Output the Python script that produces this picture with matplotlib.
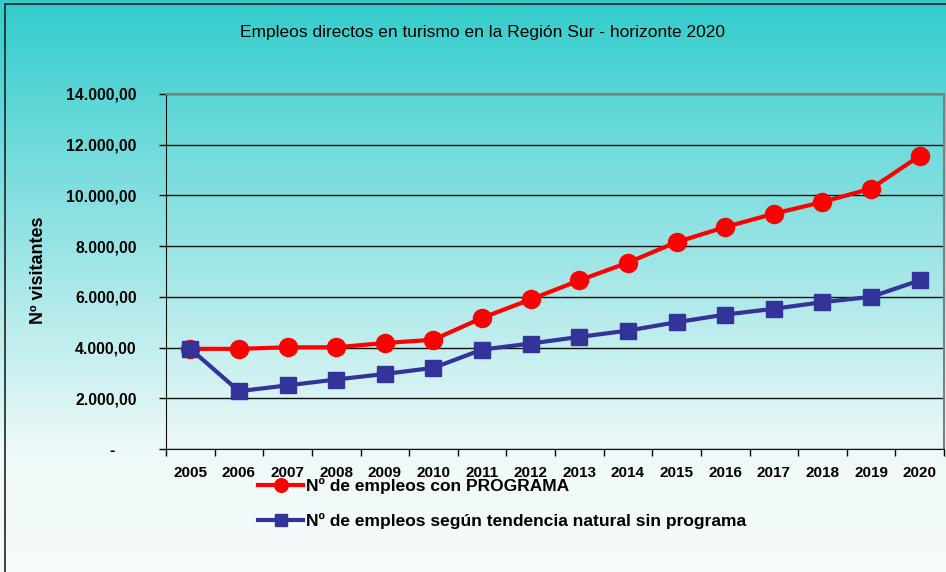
import numpy as np
import matplotlib
matplotlib.use('Agg')
import matplotlib.pyplot as plt
from matplotlib.colors import LinearSegmentedColormap
from matplotlib.patches import Rectangle

plt.rcParams['font.family'] = ['Liberation Sans', 'DejaVu Sans']

# Data
years = ['2005', '2006', '2007', '2008', '2009', '2010', '2011', '2012',
         '2013', '2014', '2015', '2016', '2017', '2018', '2019', '2020']
con_programa = [3950, 3950, 4010, 4010, 4180, 4310, 5170, 5900,
                6650, 7350, 8160, 8750, 9280, 9740, 10270, 11560]
sin_programa = [3950, 2280, 2510, 2740, 2960, 3200, 3920, 4160,
                4420, 4670, 5000, 5300, 5530, 5790, 6000, 6650]
y_ticks = [0, 2000, 4000, 6000, 8000, 10000, 12000, 14000]
y_labels = ['-     ', '2.000,00', '4.000,00', '6.000,00', '8.000,00',
            '10.000,00', '12.000,00', '14.000,00']

W, H = 946, 572
fig = plt.figure(figsize=(W / 100, H / 100), dpi=100)

# background gradient (teal at top fading to white)
bg = fig.add_axes([0, 0, 1, 1], zorder=-10)
bg.axis('off')
cmap = LinearSegmentedColormap.from_list(
    'bg', [(0, '#33cccc'), (455 / H, '#f0f9f9'), (1, '#f6fbfb')])
grad = np.linspace(0, 1, 400).reshape(-1, 1)
bg.imshow(grad, cmap=cmap, aspect='auto', extent=[0, 1, 0, 1])
bg.set_xlim(0, 1)
bg.set_ylim(0, 1)
bg.add_patch(Rectangle((5 / W, -0.1), 1.2, 1 - 4 / H + 0.1,
                       fill=False, edgecolor='#222222', linewidth=1.2))

ax = fig.add_axes([166 / W, 1 - 449 / H, (944 - 166) / W, (449 - 94) / H])
ax.patch.set_alpha(0)

x = np.arange(len(years))
ax.plot(x, con_programa, color='#ff0000', linewidth=3, marker='o',
        markersize=13, label='Nº de empleos con PROGRAMA', zorder=3)
ax.plot(x, sin_programa, color='#333399', linewidth=3, marker='s',
        markersize=12, label='Nº de empleos según tendencia natural sin programa',
        zorder=3)

ax.set_xlim(-0.5, len(years) - 0.5)
ax.set_ylim(0, 14000)
ax.set_yticks(y_ticks)
ax.set_yticklabels(y_labels, fontsize=11.3, fontweight='bold')
ax.set_xticks(x)
ax.set_xticklabels(years, fontsize=11, fontweight='bold')
ax.set_xticks(np.arange(-0.5, len(years)), minor=True)
ax.tick_params(axis='x', which='major', length=0, pad=12)
ax.tick_params(axis='x', which='minor', length=5, width=1, direction='out')
ax.tick_params(axis='y', length=5, width=1, direction='out', pad=16)
ax.yaxis.grid(True, color='#111111', linewidth=1)
ax.set_axisbelow(True)

for side in ['top', 'right']:
    ax.spines[side].set_color('#808080')
    ax.spines[side].set_linewidth(1.5)
ax.spines['left'].set_color('#111111')
ax.spines['bottom'].set_color('#111111')

fig.text(482 / W, 1 - 32 / H, 'Empleos directos en turismo en la Región Sur - horizonte 2020',
         ha='center', va='center', fontsize=12.5)
fig.text(38.5 / W, 1 - 270 / H, 'Nº visitantes', rotation=90, ha='center',
         va='center', fontsize=13, fontweight='bold')

ax.legend(loc='upper left', bbox_to_anchor=(258 / W, 1 - 478 / H),
          bbox_transform=fig.transFigure, frameon=False, borderpad=0,
          borderaxespad=0, handlelength=2.6, handletextpad=0.15,
          labelspacing=1.12, prop={'size': 12.5, 'weight': 'bold'},
          markerscale=0.75)

fig.savefig('out.png', dpi=100)
